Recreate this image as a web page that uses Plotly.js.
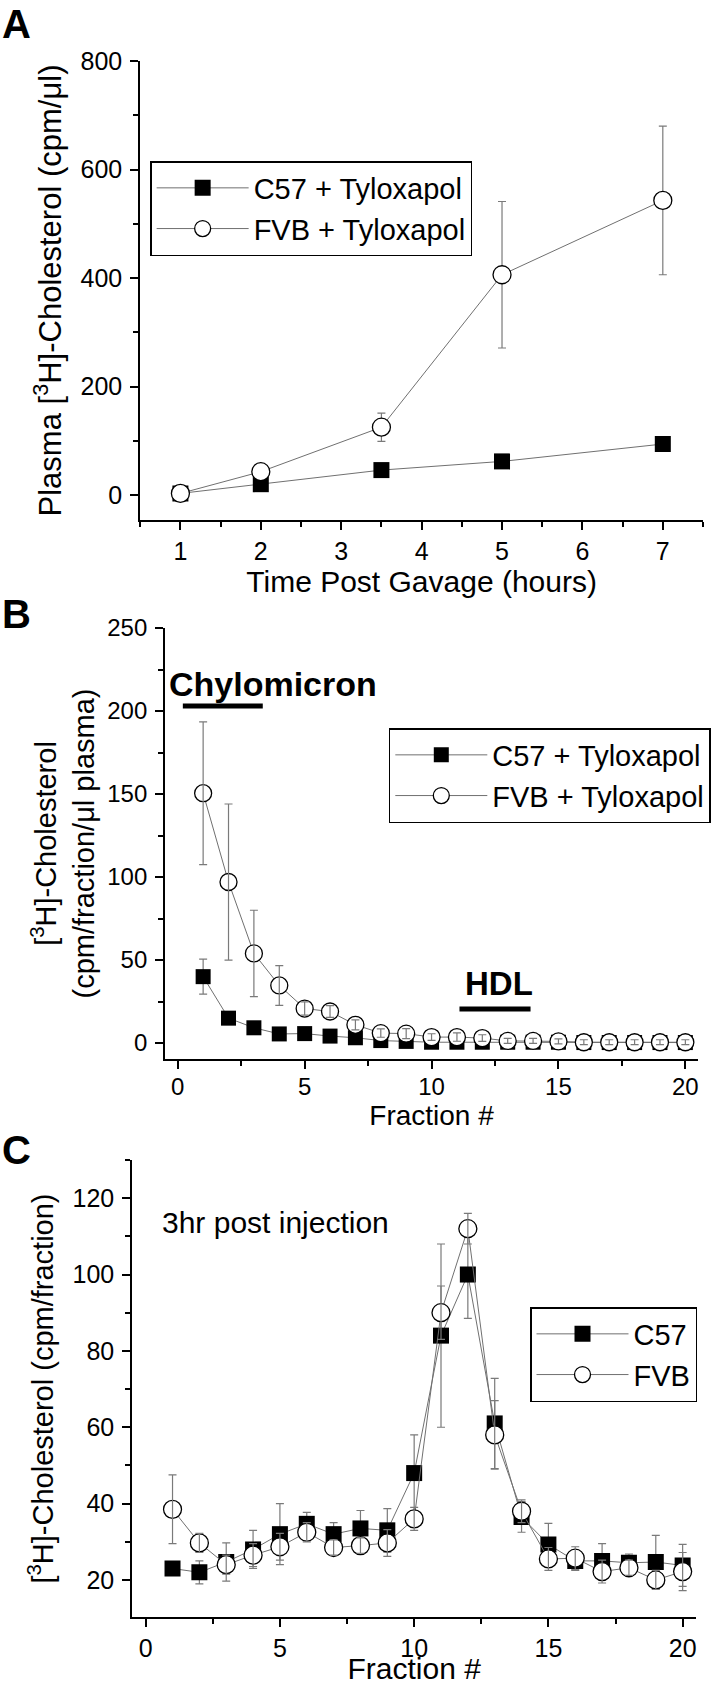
<!DOCTYPE html>
<html>
<head>
<meta charset="utf-8">
<script src="https://cdn.plot.ly/plotly-3.0.1.min.js"></script>
<style>html,body{margin:0;padding:0;background:#fff;}#chart{width:711px;height:1685px;}</style>
</head>
<body>
<div id="chart"></div>
<script>
// ---------- Panel A data ----------
const aTime = [1, 2, 3.5, 5, 7];
const aC57 = [3, 20, 46, 62, 94];
const aC57Err = [3, 4, 4, 5, 6];
const aFVB = [3, 43, 125, 406, 543];
const aFVBErr = [6, 8, 26, 135, 137];

// ---------- Panel B data ----------
const bFraction = [1, 2, 3, 4, 5, 6, 7, 8, 9, 10, 11, 12, 13, 14, 15, 16, 17, 18, 19, 20];
const bC57 = [40, 15, 9.2, 5.5, 5.7, 4.2, 3.2, 1.5, 1, 0.5, 0.5, 0.5, 0.5, 0.5, 0.5, 0.3, 0.3, 0.3, 0.3, 0.3];
const bC57Err = [10.5, 2, 1.5, 1, 1, 1, 1, 1, 0.8, 0.5, 0.5, 0.5, 0.5, 0.5, 0.5, 0.5, 0.5, 0.5, 0.5, 0.5];
const bFVB = [150.5, 97, 54, 34.7, 20.8, 19, 11, 6, 5.7, 3.6, 3.6, 3, 1.3, 1.3, 1, 0.5, 0.5, 0.5, 0.5, 0.5];
const bFVBErr = [43, 47, 26, 12, 4, 3.5, 3, 2.5, 3, 2, 2.5, 2, 1.5, 1.5, 1.5, 1.5, 1.5, 1.5, 1.5, 1.5];

// ---------- Panel C data ----------
const cFraction = [1, 2, 3, 4, 5, 6, 7, 8, 9, 10, 11, 12, 13, 14, 15, 16, 17, 18, 19, 20];
const cC57 = [23, 22, 24.7, 28, 32, 34.7, 32, 33.5, 33, 48, 84, 100, 61, 36.5, 29.3, 25, 25, 24.5, 24.7, 23.8];
const cC57Err = [1, 3, 5, 5, 8, 3, 3, 4.7, 5.7, 10, 24, 11.5, 11.8, 4, 5.5, 2.5, 4.5, 2.3, 7, 5.5];
const cFVB = [38.5, 29.7, 24, 26.5, 28.7, 32.5, 28.5, 29, 29.7, 36, 90, 112, 58, 38, 25.5, 25.7, 22.2, 23.2, 20, 22.2];
const cFVBErr = [9, 2.5, 2.5, 3, 3.5, 2.5, 2, 2, 3.5, 3, 7, 4, 9, 3, 3, 3, 3, 2, 2.5, 5];

// ---------- decorations ----------
const chyloBar = [0.2, 3.35];
const hdlBar = [11.1, 13.9];

const FONT = 'Liberation Sans, Arial, sans-serif';
const LINEC = '#707070';
const ERRC = '#7a7a7a';

function mainTrace(x, y, name, sym, size, xa, ya, leg, err) {
  const t = {
    x: x, y: y, name: name, type: 'scatter', mode: 'lines+markers',
    xaxis: xa, yaxis: ya, legend: leg,
    line: {color: LINEC, width: 1},
    marker: sym === 'square'
      ? {symbol: 'square', size: size, color: '#000', line: {color: '#000', width: 0}}
      : {symbol: 'circle', size: size, color: '#fff', line: {color: '#000', width: 1.3}},
    hoverinfo: 'x+y'
  };
  if (err) t.error_y = {type: 'data', array: err, visible: true, color: ERRC, thickness: 1.2, width: 4};
  return t;
}
function errTrace(x, y, err, xa, ya) {
  return {
    x: x, y: y, type: 'scatter', mode: 'markers', xaxis: xa, yaxis: ya,
    marker: {size: 1, color: 'rgba(0,0,0,0)'}, showlegend: false, hoverinfo: 'skip',
    error_y: {type: 'data', array: err, visible: true, color: ERRC, thickness: 1.2, width: 4}
  };
}

const data = [
  mainTrace(aTime, aC57, 'C57 + Tyloxapol', 'square', 16, 'x', 'y', 'legend', aC57Err),
  mainTrace(aTime, aFVB, 'FVB + Tyloxapol', 'circle', 18, 'x', 'y', 'legend', aFVBErr),

  mainTrace(bFraction, bC57, 'C57 + Tyloxapol', 'square', 15, 'x2', 'y2', 'legend2', bC57Err),
  mainTrace(bFraction, bFVB, 'FVB + Tyloxapol', 'circle', 17, 'x2', 'y2', 'legend2', null),
  errTrace(bFraction, bFVB, bFVBErr, 'x2', 'y2'),

  mainTrace(cFraction, cC57, 'C57', 'square', 16, 'x3', 'y3', 'legend3', cC57Err),
  mainTrace(cFraction, cFVB, 'FVB', 'circle', 18, 'x3', 'y3', 'legend3', null),
  errTrace(cFraction, cFVB, cFVBErr, 'x3', 'y3')
];

function axis(extra) {
  return Object.assign({
    showline: true, linecolor: '#000', linewidth: 2,
    ticks: 'outside', ticklen: 8, tickwidth: 2, tickcolor: '#000',
    showgrid: false, zeroline: false, mirror: false,
    tickfont: {family: FONT, size: 25, color: '#000'},
    fixedrange: true
  }, extra);
}
const H = 1685, W = 711;
const py = px => 1 - px / H;
const pxx = px => px / W;
const minorTk = d => ({dtick: d, ticklen: 5, tickwidth: 2, tickcolor: '#000', ticks: 'outside'});

const legendBase = {
  bgcolor: '#fff', bordercolor: '#000', borderwidth: 1.5,
  xanchor: 'left', yanchor: 'top', itemwidth: 92, tracegroupgap: 0,
  itemclick: false, itemdoubleclick: false,
  font: {family: FONT, size: 29}
};

const layout = {
  width: W, height: H, autosize: false,
  margin: {l: 0, r: 0, t: 0, b: 0, pad: 0},
  paper_bgcolor: '#fff', plot_bgcolor: '#fff',
  font: {family: FONT, color: '#000'},
  showlegend: true,

  xaxis: axis({domain: [pxx(141), pxx(707)], anchor: 'y', range: [0.5, 7.5], dtick: 1, tick0: 0,
    minor: minorTk(0.5),
    title: {text: 'Time Post Gavage (hours)', font: {family: FONT, size: 30}, standoff: 0}}),
  yaxis: axis({domain: [py(520), py(61)], anchor: 'x', range: [-46, 800], dtick: 200, tick0: 0,
    minor: minorTk(100), ticklabelstandoff: 3,
    title: {text: 'Plasma [<sup>3</sup>H]-Cholesterol (cpm/μl)', font: {family: FONT, size: 31}, standoff: 10}}),

  xaxis2: axis({domain: [pxx(166), pxx(702)], anchor: 'y2', range: [-0.5, 20.5], dtick: 5, tick0: 0,
    tickfont: {family: FONT, size: 24, color: '#000'}, ticklabelstandoff: -3,
    minor: minorTk(2.5),
    title: {text: 'Fraction #', font: {family: FONT, size: 28}, standoff: 0}}),
  yaxis2: axis({domain: [py(1059), py(628)], anchor: 'x2', range: [-9.6, 250], dtick: 50, tick0: 0,
    tickfont: {family: FONT, size: 24, color: '#000'},
    minor: minorTk(25), ticklabelstandoff: 3,
    title: {text: '[<sup>3</sup>H]-Cholesterol<br>(cpm/fraction/μl plasma)', font: {family: FONT, size: 29}, standoff: 4}}),

  xaxis3: axis({domain: [pxx(133), pxx(700)], anchor: 'y3', range: [-0.5, 20.5], dtick: 5, tick0: 0,
    minor: minorTk(2.5),
    title: {text: 'Fraction #', font: {family: FONT, size: 30}, standoff: 2}}),
  yaxis3: axis({domain: [py(1617), py(1160)], anchor: 'x3', range: [10.3, 130], dtick: 20, tick0: 0,
    minor: minorTk(10), ticklabelstandoff: 3,
    title: {text: '[<sup>3</sup>H]-Cholesterol (cpm/fraction)', font: {family: FONT, size: 29}, standoff: 10}}),

  legend: Object.assign({}, legendBase, {x: pxx(151), y: py(161)}),
  legend2: Object.assign({}, legendBase, {x: pxx(391), y: py(728)}),
  legend3: Object.assign({}, legendBase, {x: pxx(533), y: py(1307)}),

  shapes: [
    {type: 'line', xref: 'x2', yref: 'y2', x0: chyloBar[0], x1: chyloBar[1], y0: 203, y1: 203, line: {color: '#000', width: 5}},
    {type: 'line', xref: 'x2', yref: 'y2', x0: hdlBar[0], x1: hdlBar[1], y0: 20.5, y1: 20.5, line: {color: '#000', width: 5}}
  ],
  annotations: [
    {text: '<b>A</b>', xref: 'paper', yref: 'paper', x: pxx(0), y: py(0), xanchor: 'left', yanchor: 'top', showarrow: false, font: {family: FONT, size: 40}},
    {text: '<b>B</b>', xref: 'paper', yref: 'paper', x: pxx(0), y: py(590), xanchor: 'left', yanchor: 'top', showarrow: false, font: {family: FONT, size: 40}},
    {text: '<b>C</b>', xref: 'paper', yref: 'paper', x: pxx(0), y: py(1126), xanchor: 'left', yanchor: 'top', showarrow: false, font: {family: FONT, size: 40}},
    {text: '<b>Chylomicron</b>', xref: 'x2', yref: 'y2', x: 3.75, y: 216, xanchor: 'center', yanchor: 'middle', showarrow: false, font: {family: FONT, size: 34}},
    {text: '<b>HDL</b>', xref: 'x2', yref: 'y2', x: 12.65, y: 36, xanchor: 'center', yanchor: 'middle', showarrow: false, font: {family: FONT, size: 33}},
    {text: '3hr post injection', xref: 'x3', yref: 'y3', x: 0.55, y: 113.5, xanchor: 'left', yanchor: 'middle', showarrow: false, font: {family: FONT, size: 30}}
  ]
};

Plotly.newPlot('chart', data, layout, {displayModeBar: false, staticPlot: true});
</script>
</body>
</html>
